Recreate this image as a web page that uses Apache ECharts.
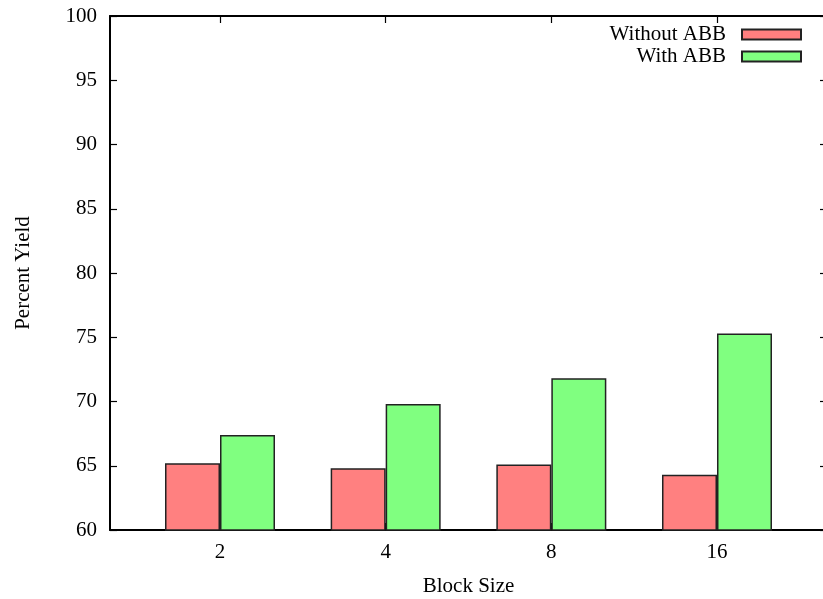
<!DOCTYPE html>
<html>
<head>
<meta charset="utf-8">
<script src="https://cdn.jsdelivr.net/npm/echarts@6/dist/echarts.min.js"></script>
<style>
  html, body { margin: 0; padding: 0; background: #fff; }
  #chart { width: 823px; height: 599px; }
</style>
</head>
<body>
<div id="chart"></div>
<script>
// Block sizes on the x axis
const blockSizes = ['2', '4', '8', '16'];
// Percent yield per block size
const withoutABB = [65.2, 64.8, 65.1, 64.3];
const withABB = [67.4, 69.8, 71.8, 75.3];
// Y axis tick values
const yTicks = [60, 65, 70, 75, 80, 85, 90, 95, 100];

const positions = blockSizes.map((_, i) => i);
const font = 'Liberation Serif, Times New Roman, serif';
const fontSize = 21;
const axisColor = '#000';

const chart = echarts.init(document.getElementById('chart'), null, { renderer: 'canvas' });

const xCommon = {
  type: 'value',
  min: -0.664,
  max: 3.664,
  splitLine: { show: false },
  axisLine: { show: true, onZero: false, lineStyle: { color: axisColor, width: 2 } },
  axisTick: { show: true, inside: true, length: 7, customValues: positions, lineStyle: { color: axisColor, width: 1.2 } }
};

const yCommon = {
  type: 'value',
  min: yTicks[0],
  max: yTicks[yTicks.length - 1],
  interval: 5,
  splitLine: { show: false },
  axisLine: { show: true, onZero: false, lineStyle: { color: axisColor, width: 2 } },
  axisTick: { show: true, inside: true, length: 7, lineStyle: { color: axisColor, width: 1.2 } }
};

chart.setOption({
  animation: false,
  backgroundColor: '#fff',
  textStyle: { fontFamily: font },
  grid: { left: 110, right: -4, top: 16, bottom: 69, containLabel: false, outerBoundsMode: 'none' },
  legend: {
    orient: 'vertical',
    right: 16,
    top: 19,
    align: 'right',
    icon: 'rect',
    itemWidth: 59,
    itemHeight: 10,
    itemGap: 1,
    textStyle: { fontFamily: font, fontSize: fontSize, color: '#000', padding: [0, 11, 0, 0] },
    data: ['Without ABB', 'With ABB']
  },
  xAxis: [
    Object.assign({}, xCommon, {
      position: 'bottom',
      name: 'Block Size',
      nameLocation: 'middle',
      nameGap: 46,
      nameTextStyle: { fontFamily: font, fontSize: fontSize, color: '#000' },
      axisLabel: {
        show: true,
        customValues: positions,
        margin: 12,
        fontFamily: font,
        fontSize: fontSize,
        color: '#000',
        formatter: v => blockSizes[Math.round(v)]
      }
    }),
    Object.assign({}, xCommon, {
      position: 'top',
      axisLabel: { show: false }
    })
  ],
  yAxis: [
    Object.assign({}, yCommon, {
      position: 'left',
      name: 'Percent Yield',
      nameLocation: 'middle',
      nameGap: 76,
      nameRotate: 90,
      nameTextStyle: { fontFamily: font, fontSize: fontSize, color: '#000' },
      axisLabel: { show: true, margin: 13, fontFamily: font, fontSize: fontSize, color: '#000' }
    }),
    Object.assign({}, yCommon, {
      position: 'right',
      axisLabel: { show: false }
    })
  ],
  series: [
    {
      name: 'Without ABB',
      type: 'bar',
      xAxisIndex: 0,
      yAxisIndex: 0,
      barWidth: 55,
      barGap: '0%',
      data: positions.map((p, i) => [p, withoutABB[i]]),
      itemStyle: { color: '#ff8080', borderColor: '#222', borderWidth: 1.5 }
    },
    {
      name: 'With ABB',
      type: 'bar',
      xAxisIndex: 0,
      yAxisIndex: 0,
      barWidth: 55,
      barGap: '0%',
      data: positions.map((p, i) => [p, withABB[i]]),
      itemStyle: { color: '#80ff80', borderColor: '#222', borderWidth: 1.5 }
    }
  ]
});
</script>
</body>
</html>
